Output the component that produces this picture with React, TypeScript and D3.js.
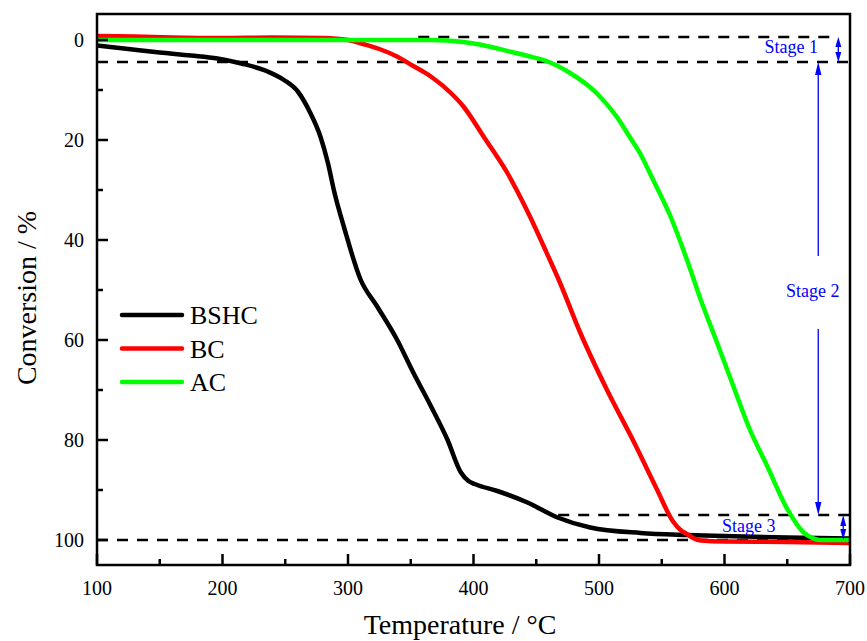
import React from 'react';
import * as d3 from 'd3';

// ---- Data ----
const bshcTemp = [100, 125, 150, 175, 196, 215, 236, 249, 260, 270, 278, 284, 289, 297, 310, 323, 339, 352, 366, 379, 390, 396, 401, 419, 443, 467, 493, 533, 570, 600, 650, 700];
const bshcConv = [1.1, 1.8, 2.5, 3.1, 3.7, 4.7, 6.3, 8.0, 10.3, 14.6, 19.3, 24.6, 30.3, 37.6, 47.9, 53.2, 59.9, 66.5, 73.2, 79.8, 86.5, 88.2, 88.8, 90.2, 92.5, 95.5, 97.5, 98.6, 99.0, 99.2, 99.5, 99.7];

const bcTemp = [100, 130, 160, 200, 240, 280, 300, 312, 325, 339, 352, 366, 382, 392, 408, 427, 445, 456, 469, 485, 506, 528, 546, 559, 565, 570, 575, 581, 600, 650, 700];
const bcConv = [-0.8, -0.7, -0.5, -0.4, -0.5, -0.4, 0.0, 0.8, 1.8, 3.3, 5.2, 7.3, 10.6, 13.3, 19.3, 26.6, 35.3, 41.3, 48.6, 58.5, 69.8, 80.5, 89.8, 96.3, 98.0, 98.8, 99.6, 100.1, 100.3, 100.4, 100.6];

const acTemp = [100, 200, 300, 366, 392, 405, 419, 432, 445, 459, 477, 498, 514, 525, 533, 543, 557, 570, 581, 594, 607, 620, 634, 650, 663, 670, 676, 700];
const acConv = [0.0, 0.0, 0.0, 0.0, 0.4, 0.9, 1.7, 2.5, 3.3, 4.3, 6.6, 10.6, 15.3, 19.6, 22.8, 27.9, 35.3, 43.9, 51.9, 60.5, 69.2, 77.8, 85.2, 93.8, 98.5, 99.6, 100.0, 100.0];

const seriesNames = ['BSHC', 'BC', 'AC'];
const seriesColors = ['#000000', '#ff0000', '#00ff00'];

const xTickValues = [100, 200, 300, 400, 500, 600, 700];
const xMinorTicks = [150, 250, 350, 450, 550, 650];
const yTickValues = [0, 20, 40, 60, 80, 100];
const yMinorTicks = [10, 30, 50, 70, 90];

// stage boundary reference lines: [level, tStart, tEnd]
const refLevels = [-0.6, 4.4, 95, 100];
const refStarts = [356, 100, 467.5, 100];
const refEnds = [690, 700, 700, 700];

const stageLabels = ['Stage 1', 'Stage 2', 'Stage 3'];

const W = 867, H = 641;
const L = 97, R = 850, TOP = 14, BOT = 565;
const FONT = "'Liberation Serif', 'Times New Roman', serif";
const BLUE = '#0000ff';

function arrowHead(px: number, py: number, dir: number, len = 11, half = 3.2) {
  // dir: -1 points up, +1 points down
  const by = py - dir * len;
  return `M${px},${py} L${px - half},${by} L${px + half},${by} Z`;
}

export default function App() {
  const x = d3.scaleLinear().domain([100, 700]).range([L, R]);
  const y = d3.scaleLinear().domain([-5.2, 105]).range([TOP, BOT]);

  const line = d3
    .line<[number, number]>()
    .x((d) => x(d[0]))
    .y((d) => y(d[1]))
    .curve(d3.curveMonotoneX);

  const series = [
    d3.zip(bshcTemp, bshcConv) as [number, number][],
    d3.zip(bcTemp, bcConv) as [number, number][],
    d3.zip(acTemp, acConv) as [number, number][],
  ];

  // annotation positions
  const s1x = x(690.7), s2x = x(674.7), s3x = x(694.6);

  return (
    <svg width={W} height={H} style={{ position: 'absolute', left: 0, top: 0, background: '#fff' }}>
      <defs>
        <clipPath id="plot">
          <rect x={L} y={TOP} width={R - L} height={BOT - TOP} />
        </clipPath>
      </defs>
      <rect x={0} y={0} width={W} height={H} fill="#fff" />

      {/* reference dashed lines */}
      {refLevels.map((lv, i) => (
        <line key={'ref' + i} x1={x(refStarts[i])} x2={x(refEnds[i])} y1={y(lv)} y2={y(lv)}
          stroke="#000" strokeWidth={2.5} strokeDasharray="11,9" />
      ))}

      {/* curves */}
      <g clipPath="url(#plot)">
        {series.map((s, i) => (
          <path key={seriesNames[i]} d={line(s) || ''} fill="none" stroke={seriesColors[i]}
            strokeWidth={4.5} strokeLinejoin="round" strokeLinecap="round" />
        ))}
      </g>

      {/* frame */}
      <rect x={L} y={TOP} width={R - L} height={BOT - TOP} fill="none" stroke="#000" strokeWidth={2.5} />

      {/* x ticks */}
      {xTickValues.map((t) => (
        <g key={'xt' + t}>
          <line x1={x(t)} x2={x(t)} y1={BOT} y2={BOT - 11} stroke="#000" strokeWidth={2.5} />
          <text x={x(t)} y={595} textAnchor="middle" fontFamily={FONT} fontSize={20}>{t}</text>
        </g>
      ))}
      {xMinorTicks.map((t) => (
        <line key={'xm' + t} x1={x(t)} x2={x(t)} y1={BOT} y2={BOT - 6} stroke="#000" strokeWidth={2.5} />
      ))}

      {/* y ticks */}
      {yTickValues.map((t) => (
        <g key={'yt' + t}>
          <line x1={L} x2={L + 11} y1={y(t)} y2={y(t)} stroke="#000" strokeWidth={2.5} />
          <text x={84} y={y(t)} dy="0.35em" textAnchor="end" fontFamily={FONT} fontSize={20}>{t}</text>
        </g>
      ))}
      {yMinorTicks.map((t) => (
        <line key={'ym' + t} x1={L} x2={L + 6} y1={y(t)} y2={y(t)} stroke="#000" strokeWidth={2.5} />
      ))}

      {/* axis titles */}
      <text x={460} y={634} textAnchor="middle" fontFamily={FONT} fontSize={28}>Temperature / °C</text>
      <text transform={`translate(36,${298}) rotate(-90)`} textAnchor="middle" fontFamily={FONT} fontSize={28}>Conversion / %</text>

      {/* legend */}
      {seriesNames.map((n, i) => (
        <g key={'lg' + n}>
          <line x1={122} x2={182} y1={315 + i * 33.5} y2={315 + i * 33.5} stroke={seriesColors[i]} strokeWidth={4.5} strokeLinecap="round" />
          <text x={190} y={315 + i * 33.5} dy="0.35em" fontFamily={FONT} fontSize={26}>{n}</text>
        </g>
      ))}

      {/* stage annotations */}
      <g stroke={BLUE} fill={BLUE}>
        {/* stage 1 double arrow */}
        <line x1={s1x} x2={s1x} y1={y(-0.6) + 6} y2={y(4.4) - 6} strokeWidth={1.3} />
        <path d={arrowHead(s1x, y(-0.6), -1, 10, 3)} stroke="none" />
        <path d={arrowHead(s1x, y(4.4), 1, 10, 3)} stroke="none" />
        {/* stage 2 arrows */}
        <line x1={s2x} x2={s2x} y1={y(4.4) + 8} y2={y(43.2)} strokeWidth={1.3} />
        <path d={arrowHead(s2x, y(4.4), -1, 13, 3.2)} stroke="none" />
        <line x1={s2x} x2={s2x} y1={y(57.8)} y2={y(95) - 8} strokeWidth={1.3} />
        <path d={arrowHead(s2x, y(95), 1, 13, 3.2)} stroke="none" />
        {/* stage 3 double arrow */}
        <line x1={s3x} x2={s3x} y1={y(95) + 6} y2={y(100) - 6} strokeWidth={1.3} />
        <path d={arrowHead(s3x, y(95), -1, 11, 3)} stroke="none" />
        <path d={arrowHead(s3x, y(100), 1, 11, 3)} stroke="none" />
      </g>
      <text x={818} y={53} textAnchor="end" fontFamily={FONT} fontSize={18} fill={BLUE}>{stageLabels[0]}</text>
      <text x={786} y={297} fontFamily={FONT} fontSize={18} fill={BLUE}>{stageLabels[1]}</text>
      <text x={722} y={532} fontFamily={FONT} fontSize={18} fill={BLUE}>{stageLabels[2]}</text>
    </svg>
  );
}
